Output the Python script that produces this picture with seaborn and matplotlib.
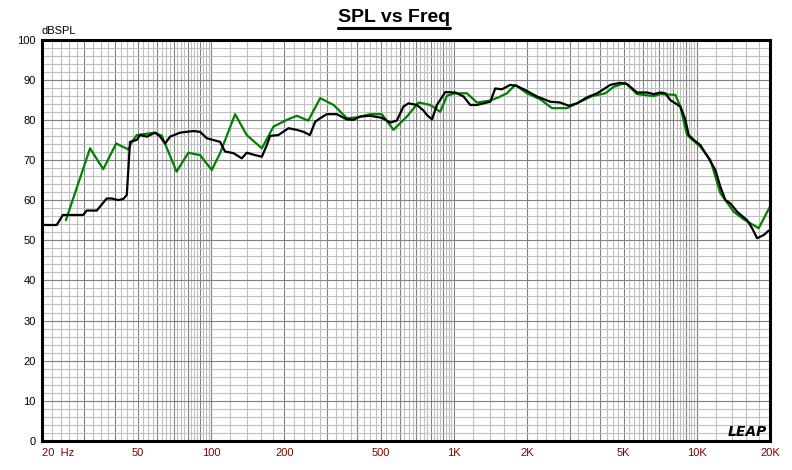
import numpy as np
import pandas as pd
import seaborn as sns
import matplotlib
matplotlib.use("Agg")
import matplotlib.pyplot as plt
from matplotlib.lines import Line2D
from matplotlib.ticker import NullFormatter

# Curva preta (resposta medida)
black_freq = [20, 23.1, 24.5, 29.7, 30.7, 33.8, 37.1, 38.9, 41.4, 43.5,
              44.9, 46.3, 49.4, 50.9, 54.3, 58.7, 61.6, 64.6, 67.7, 74.4,
              84.5, 90, 95.9, 108.8, 114, 123.4, 133.6, 140, 151.6, 161.6,
              169.4, 174.8, 189, 208, 225, 240, 255, 268, 281, 299,
              329, 362, 385, 411, 451, 504, 546, 581, 619, 649,
              703, 749, 773, 811, 850, 920, 1011, 1094, 1166, 1243,
              1409, 1478, 1574, 1704, 1816, 1964, 2196, 2490, 2738, 2962,
              3208, 3528, 3880, 4129, 4400, 4838, 5156, 5670, 6233, 6634,
              7070, 7413, 7774, 8548, 8964, 9248, 9698, 10336, 11182, 11914,
              12492, 13100, 13736, 14640, 16100, 16880, 17700, 18840, 19756]
black_spl = [53.8, 53.8, 56.3, 56.3, 57.4, 57.4, 60.4, 60.4, 60.0, 60.3,
             61.3, 74.5, 75.0, 76.2, 75.8, 76.8, 75.8, 74.1, 75.8, 76.8,
             77.2, 77.0, 75.4, 74.5, 72.1, 71.7, 70.4, 71.8, 71.2, 70.8,
             73.7, 76.0, 76.2, 77.9, 77.5, 77.0, 76.2, 79.5, 80.4, 81.4,
             81.4, 80.1, 80.0, 80.8, 81.0, 80.5, 79.3, 79.8, 83.3, 84.1,
             83.7, 82.3, 81.2, 80.1, 83.7, 86.9, 86.8, 85.8, 83.7, 83.7,
             84.5, 87.8, 87.6, 88.7, 88.4, 87.4, 85.8, 84.5, 84.3, 83.5,
             84.1, 85.6, 86.6, 87.6, 88.7, 89.2, 88.9, 86.8, 86.8, 86.4,
             86.8, 86.6, 84.9, 83.3, 80.0, 76.2, 75.0, 73.7, 70.4, 67.5,
             63.3, 60.0, 59.2, 57.1, 55.0, 53.0, 50.5, 51.3, 52.4]

# Curva verde (simulacao)
green_freq = [25.2, 31.7, 35.9, 40.6, 45.6, 47.1, 49.4, 58.7, 62.6, 72,
              80.5, 90, 100.5, 108.8, 125.4, 140, 161.6, 180.4, 205, 225,
              251, 281, 319, 362, 398, 451, 504, 563, 639, 714,
              798, 877, 935, 1011, 1130, 1243, 1409, 1525, 1651, 1786,
              1996, 2264, 2531, 2918, 3310, 3698, 4196, 4540, 5074, 5670,
              6634, 7070, 8152, 8548, 9110, 10336, 11364, 12492, 14176, 15590,
              17970, 20000]
green_spl = [55.0, 72.9, 67.7, 74.1, 72.6, 74.5, 76.2, 76.8, 76.0, 67.1,
             71.8, 71.2, 67.5, 71.7, 81.4, 76.2, 72.9, 78.3, 80.0, 81.0,
             79.8, 85.4, 83.7, 80.4, 80.6, 81.4, 81.4, 77.5, 80.8, 84.3,
             83.7, 82.0, 86.0, 86.6, 86.6, 84.3, 84.8, 85.6, 86.6, 88.7,
             86.6, 85.1, 82.9, 82.9, 84.5, 85.9, 86.6, 88.2, 89.2, 86.4,
             85.9, 86.4, 86.2, 83.3, 76.2, 73.3, 70.0, 61.7, 57.1, 55.2,
             53.0, 58.4]

xtick_vals = [20, 50, 100, 200, 500, 1000, 2000, 5000, 10000, 20000]
xtick_text = ["20  Hz", "50", "100", "200", "500", "1K", "2K", "5K", "10K", "20K"]

df = pd.concat([
    pd.DataFrame({"Freq": green_freq, "SPL": green_spl, "Curva": "verde"}),
    pd.DataFrame({"Freq": black_freq, "SPL": black_spl, "Curva": "preta"}),
])

sns.set_style("white")
plt.rcParams["font.family"] = ["Liberation Sans", "DejaVu Sans"]
plt.rcParams["text.color"] = "black"

fig = plt.figure(figsize=(7.92, 4.70), dpi=100)
ax = fig.add_axes([41.5 / 792, 29 / 470, 728.5 / 792, 401.5 / 470])

sns.lineplot(data=df, x="Freq", y="SPL", hue="Curva",
             palette={"verde": "#008000", "preta": "#000000"},
             linewidth=1.6, legend=False, ax=ax, sort=False, estimator=None)

ax.set_xscale("log")
ax.set_xlim(20, 20000)
ax.set_ylim(0, 100)

# grade estilo LEAP
major_x = [m * d for d in [10, 100, 1000, 10000] for m in range(1, 10)
           if 20 <= m * d <= 20000]
minor_mult = [1.2, 1.4, 1.6, 1.8, 2.2, 2.4, 2.6, 2.8,
              3.25, 3.5, 3.75, 4.25, 4.5, 4.75] + list(np.arange(5.25, 10, 0.25))
minor_x = [m * d for d in [10, 100, 1000, 10000] for m in minor_mult
           if 20 < m * d < 20000 and abs(m - round(m)) > 1e-6]
ax.set_xticks(major_x)
ax.set_xticklabels([xtick_text[xtick_vals.index(v)] if v in xtick_vals else ""
                    for v in major_x])
ax.set_xticks(minor_x, minor=True)
ax.xaxis.set_minor_formatter(NullFormatter())
ax.set_yticks(range(0, 101, 10))
ax.set_yticks(range(0, 101, 2), minor=True)
ax.yaxis.set_minor_formatter(NullFormatter())

ax.grid(which="minor", color="#c0c0c0", linewidth=0.8)
ax.grid(which="major", color="#808080", linewidth=0.8)
ax.set_axisbelow(True)

ax.tick_params(axis="both", which="both", length=0)
ax.tick_params(axis="x", colors="#800000", labelsize=8, pad=5)
ax.tick_params(axis="y", labelcolor="black", labelsize=8, pad=4)
ax.get_xticklabels()[0].set_ha("left")
for lbl in ax.get_xticklabels():
    lbl.set_color("#800000")

for s in ax.spines.values():
    s.set_visible(True)
    s.set_color("black")
    s.set_linewidth(2.2)

ax.set_xlabel("")
ax.set_ylabel("")
ax.text(0.0, 1.008, "dBSPL", transform=ax.transAxes, ha="left", va="bottom",
        fontsize=8, color="black")
ax.text(0.996, 0.006, "LEAP", transform=ax.transAxes, ha="right", va="bottom",
        fontsize=10, fontweight="bold", fontstyle="italic", family="DejaVu Sans",
        color="black")

title = fig.text(0.497, 0.962, "SPL vs Freq", ha="center", va="center",
                 fontsize=14, fontweight="bold", color="black")

# sublinhado do titulo
fig.canvas.draw()
bb = title.get_window_extent().transformed(fig.transFigure.inverted())
fig.add_artist(Line2D([bb.x0, bb.x1], [bb.y0 - 0.004, bb.y0 - 0.004],
                      transform=fig.transFigure, color="black", linewidth=2.2))

fig.savefig("out.png", dpi=100)
